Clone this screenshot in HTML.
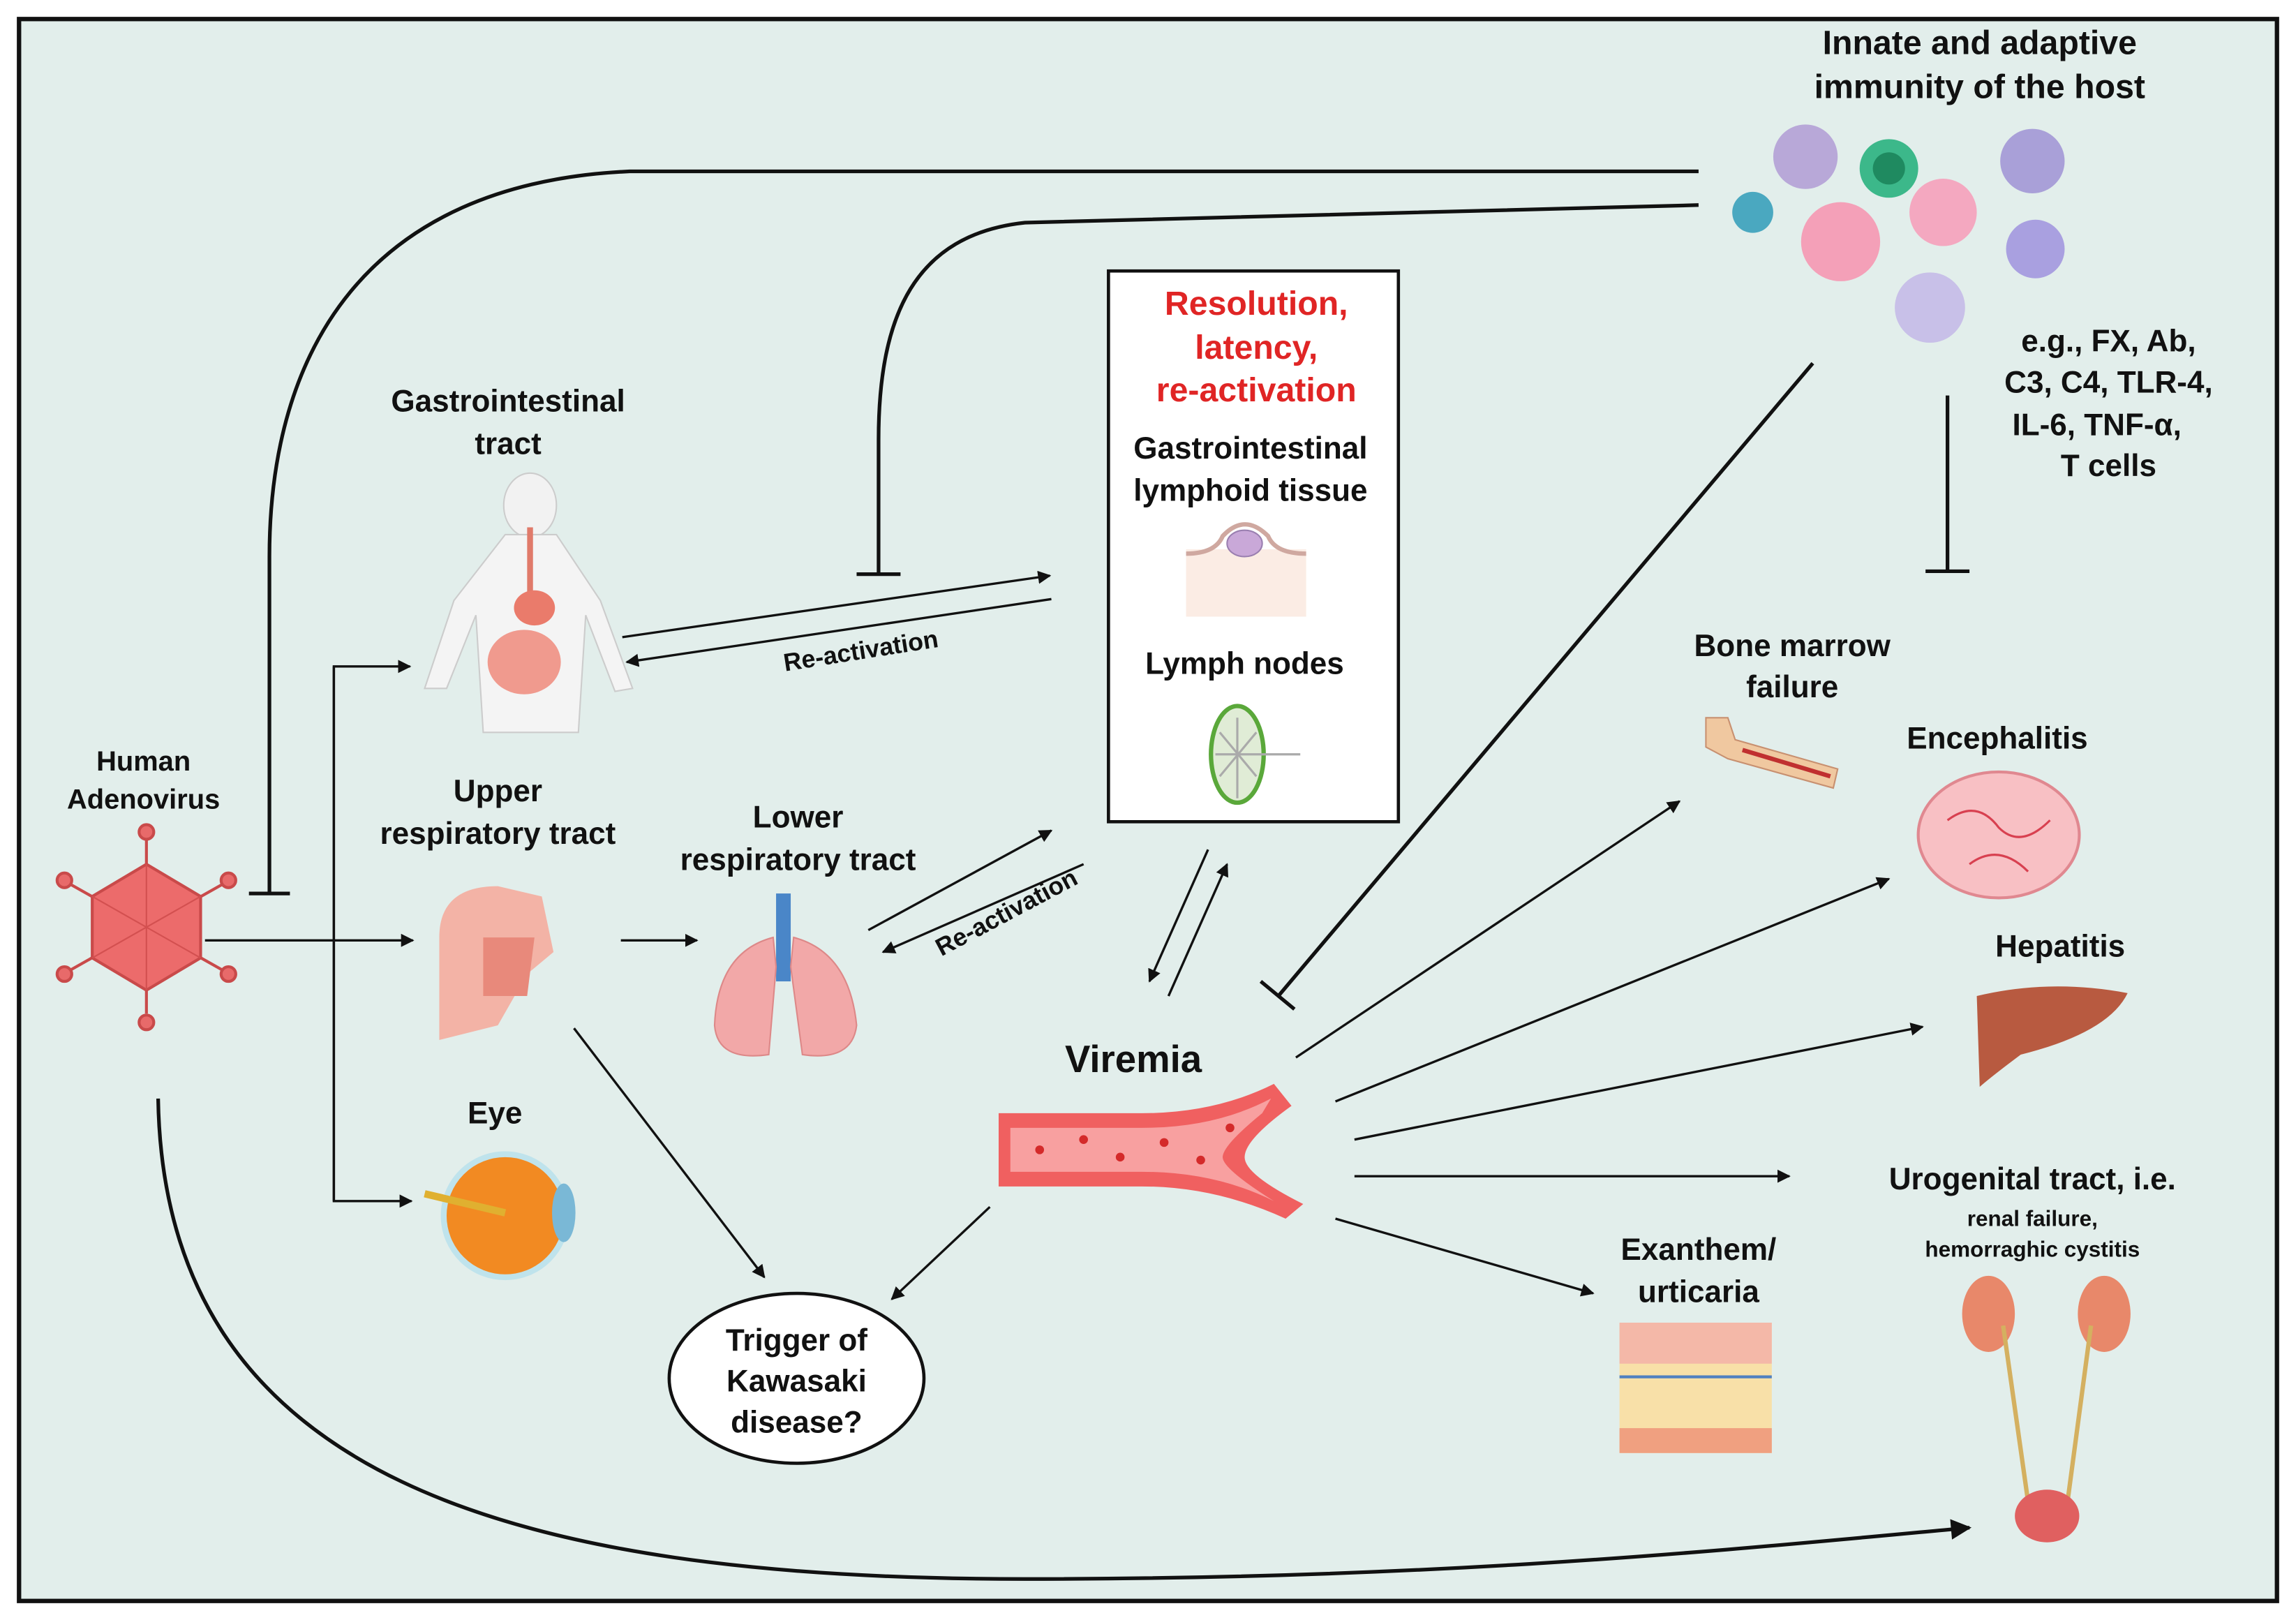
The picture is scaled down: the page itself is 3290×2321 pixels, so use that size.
<!DOCTYPE html>
<html><head><meta charset="utf-8"><style>
html,body{margin:0;padding:0;background:#fff;}
svg{display:block;}
text{font-family:"Liberation Sans",sans-serif;font-weight:bold;text-anchor:middle;fill:#111;}
</style></head><body>
<svg width="3290" height="2321" viewBox="0 0 1568 1106" preserveAspectRatio="none" xmlns="http://www.w3.org/2000/svg">
<defs>
<marker id="a" viewBox="0 0 10 10" refX="9" refY="5" markerWidth="9" markerHeight="9" markerUnits="userSpaceOnUse" orient="auto"><path d="M0,0 L10,5 L0,10 z" fill="#111"/></marker>
<marker id="ab" viewBox="0 0 10 10" refX="9" refY="5" markerWidth="16" markerHeight="14" markerUnits="userSpaceOnUse" orient="auto"><path d="M0,0 L10,5 L0,10 z" fill="#111"/></marker>
</defs>
<rect x="0" y="0" width="1568" height="1106" fill="#fff"/>
<rect x="13" y="13" width="1542" height="1080" fill="#e2eeeb" stroke="#111" stroke-width="3"/>

<g fill="none" stroke="#111" stroke-width="2.5">
<path d="M1160,117 L430,117 C250,125 184,240 184,380 L184,610"/>
<path d="M170,610 L198,610"/>
<path d="M1160,140 L700,152 C625,160 600,215 600,300 L600,392"/>
<path d="M585,392 L615,392"/>
<path d="M1238,248 L873,680"/>
<path d="M861,670 L884,689"/>
<path d="M1330,270 L1330,390"/>
<path d="M1315,390 L1345,390"/>
<path d="M108,750 C112,1010 350,1078 700,1078 C1000,1078 1200,1056 1345,1043" marker-end="url(#ab)"/>
</g>

<g fill="none" stroke="#111" stroke-width="1.6" marker-end="url(#a)">
<path d="M425,435 L717,393"/>
<path d="M718,409 L428,452"/>
<path d="M140,642 L282,642"/>
<path d="M424,642 L476,642"/>
<path d="M593,635 L718,567"/>
<path d="M740,590 L603,650"/>
<path d="M392,702 L522,872"/>
<path d="M676,824 L609,887"/>
<path d="M825,580 L785,670"/>
<path d="M798,680 L838,590"/>
<path d="M885,722 L1147,547"/>
<path d="M912,752 L1290,600"/>
<path d="M925,778 L1313,701"/>
<path d="M925,803 L1222,803"/>
<path d="M912,832 L1088,883"/>
<path d="M228,820 L228,455 L280,455"/>
<path d="M228,455 L228,820 L281,820"/>
</g>

<rect x="757" y="185" width="198" height="376" fill="#fff" stroke="#111" stroke-width="2.2"/>
<g style="font-size:23px">
<text x="858" y="215" style="fill:#e02525">Resolution,</text>
<text x="858" y="245" style="fill:#e02525">latency,</text>
<text x="858" y="274" style="fill:#e02525">re-activation</text>
</g>
<text x="854" y="313" style="font-size:21px">Gastrointestinal</text>
<text x="854" y="342" style="font-size:21px">lymphoid tissue</text>
<rect x="810" y="375" width="82" height="46" fill="#fbece4"/>
<path d="M810,378 Q830,378 835,366 Q850,350 866,366 Q871,378 892,378" fill="none" stroke="#cfa8a0" stroke-width="3"/>
<ellipse cx="850" cy="371" rx="12" ry="9" fill="#c9a8d8" stroke="#9a7fb0"/>
<text x="850" y="460" style="font-size:21px">Lymph nodes</text>
<ellipse cx="845" cy="515" rx="18" ry="33" fill="#e0ecd6" stroke="#5aa83a" stroke-width="3"/>
<path d="M845,490 L845,545 M830,515 L888,515 M833,500 L858,530 M833,530 L858,500" stroke="#aaa" stroke-width="1.5"/>

<text x="1352" y="37" style="font-size:23px">Innate and adaptive</text>
<text x="1352" y="67" style="font-size:23px">immunity of the host</text>
<g style="font-size:21px">
<text x="1440" y="240">e.g., FX, Ab,</text>
<text x="1440" y="268">C3, C4, TLR-4,</text>
<text x="1432" y="297">IL-6, TNF-α,</text>
<text x="1440" y="325">T cells</text>
</g>
<text x="347" y="281" style="font-size:21px">Gastrointestinal</text>
<text x="347" y="310" style="font-size:21px">tract</text>
<text x="98" y="526" style="font-size:19px">Human</text>
<text x="98" y="552" style="font-size:19px">Adenovirus</text>
<text x="340" y="547" style="font-size:21px">Upper</text>
<text x="340" y="576" style="font-size:21px">respiratory tract</text>
<text x="545" y="565" style="font-size:21px">Lower</text>
<text x="545" y="594" style="font-size:21px">respiratory tract</text>
<text x="338" y="767" style="font-size:21px">Eye</text>
<text x="774" y="732" style="font-size:26px">Viremia</text>
<text x="1224" y="448" style="font-size:21px">Bone marrow</text>
<text x="1224" y="476" style="font-size:21px">failure</text>
<text x="1364" y="511" style="font-size:21px">Encephalitis</text>
<text x="1407" y="653" style="font-size:21px">Hepatitis</text>
<text x="1388" y="812" style="font-size:21px">Urogenital tract, i.e.</text>
<text x="1388" y="837" style="font-size:15px">renal failure,</text>
<text x="1388" y="858" style="font-size:15px">hemorraghic cystitis</text>
<text x="1160" y="860" style="font-size:21px">Exanthem/</text>
<text x="1160" y="889" style="font-size:21px">urticaria</text>
<text x="588" y="450" transform="rotate(-9 588 445)" style="font-size:17px">Re-activation</text>
<text x="688" y="630" transform="rotate(-28 685 625)" style="font-size:17px">Re-activation</text>

<ellipse cx="544" cy="941" rx="87" ry="58" fill="#fff" stroke="#111" stroke-width="2.2"/>
<text x="544" y="922" style="font-size:21px">Trigger of</text>
<text x="544" y="950" style="font-size:21px">Kawasaki</text>
<text x="544" y="978" style="font-size:21px">disease?</text>

<g stroke="#c94a4a" stroke-width="2" fill="#e86a6a">
<path d="M100,570 L100,692 M45,602 L155,664 M45,664 L155,602" fill="none"/>
<circle cx="100" cy="568" r="5"/><circle cx="100" cy="698" r="5"/>
<circle cx="44" cy="601" r="5"/><circle cx="156" cy="601" r="5"/>
<circle cx="44" cy="665" r="5"/><circle cx="156" cy="665" r="5"/>
<path d="M100,590 L137,612 L137,654 L100,676 L63,654 L63,612 Z" fill="#ec6b6b"/>
<path d="M100,590 L100,676 M63,612 L137,654 M137,612 L63,654" fill="none" stroke="#d35050" stroke-width="1"/>
</g>

<g>
<ellipse cx="362" cy="345" rx="18" ry="22" fill="#f2f2f2" stroke="#ccc"/>
<path d="M345,365 L380,365 L410,410 L432,470 L420,472 L400,420 L395,500 L330,500 L325,420 L305,470 L290,470 L310,410 Z" fill="#f4f4f4" stroke="#ccc"/>
<path d="M362,360 L362,405" stroke="#e07a6a" stroke-width="4"/>
<ellipse cx="365" cy="415" rx="14" ry="12" fill="#ea7b6b"/>
<ellipse cx="358" cy="452" rx="25" ry="22" fill="#f09a8e"/>
</g>
<path d="M300,710 L300,640 Q300,605 340,605 L370,612 L378,650 L360,665 L340,700 Z" fill="#f3b3a6"/>
<path d="M330,640 L365,640 L360,680 L330,680 Z" fill="#e8897b"/>
<rect x="530" y="610" width="10" height="60" fill="#4a86c8"/>
<path d="M528,640 Q490,650 488,700 Q490,725 525,720 L530,660 Z" fill="#f2a8a8" stroke="#d88"/>
<path d="M542,640 Q580,650 585,700 Q582,725 548,720 L540,660 Z" fill="#f2a8a8" stroke="#d88"/>
<circle cx="345" cy="830" r="42" fill="#f28a22" stroke="#bfe3ec" stroke-width="4"/>
<ellipse cx="385" cy="828" rx="8" ry="20" fill="#7ab8d6"/>
<path d="M290,815 L345,828" stroke="#e0b030" stroke-width="5"/>
<path d="M682,760 L780,760 Q830,760 870,740 L882,755 Q850,778 850,790 Q850,802 890,822 L878,832 Q830,810 780,810 L682,810 Z" fill="#f06060"/>
<path d="M690,770 L780,770 Q830,770 868,750 L862,760 Q835,782 835,790 Q835,798 870,820 Q830,800 780,800 L690,800 Z" fill="#f8a0a0"/>
<g fill="#d42a2a"><circle cx="710" cy="785" r="3"/><circle cx="740" cy="778" r="3"/><circle cx="765" cy="790" r="3"/><circle cx="795" cy="780" r="3"/><circle cx="820" cy="792" r="3"/><circle cx="840" cy="770" r="3"/></g>
<g>
<circle cx="1233" cy="107" r="22" fill="#b8a8d8"/>
<circle cx="1290" cy="115" r="20" fill="#3cb88a"/><circle cx="1290" cy="115" r="11" fill="#1f8a60"/>
<circle cx="1388" cy="110" r="22" fill="#a9a0d8"/>
<circle cx="1197" cy="145" r="14" fill="#4aa8c0"/>
<circle cx="1327" cy="145" r="23" fill="#f4a8c0"/>
<circle cx="1257" cy="165" r="27" fill="#f4a0b8"/>
<circle cx="1390" cy="170" r="20" fill="#a9a0e0"/>
<circle cx="1318" cy="210" r="24" fill="#c8c0e8"/>
</g>
<path d="M1165,490 L1180,490 L1185,505 L1255,525 L1252,538 L1180,518 L1165,510 Z" fill="#f0c8a0" stroke="#c89070"/>
<path d="M1190,512 L1250,530" stroke="#c03030" stroke-width="3"/>
<ellipse cx="1365" cy="570" rx="55" ry="43" fill="#f8c0c4" stroke="#e08890" stroke-width="2"/>
<path d="M1330,560 Q1350,545 1365,565 Q1380,580 1400,560 M1345,590 Q1365,575 1385,595" fill="none" stroke="#d84050" stroke-width="1.5"/>
<path d="M1350,680 Q1400,668 1453,678 Q1440,705 1380,720 Q1360,735 1352,742 Z" fill="#b85a40"/>
<ellipse cx="1358" cy="897" rx="18" ry="26" fill="#e8886a"/>
<ellipse cx="1437" cy="897" rx="18" ry="26" fill="#e8886a"/>
<path d="M1368,905 L1385,1025 M1428,905 L1412,1025" stroke="#d4b060" stroke-width="3" fill="none"/>
<ellipse cx="1398" cy="1035" rx="22" ry="18" fill="#e06060"/>
<rect x="1106" y="903" width="104" height="89" fill="#f8e0a8"/>
<rect x="1106" y="903" width="104" height="28" fill="#f4b8a8"/>
<rect x="1106" y="975" width="104" height="17" fill="#f0a080"/>
<path d="M1106,940 L1210,940" stroke="#5080c0" stroke-width="2"/>
</svg>
</body></html>
